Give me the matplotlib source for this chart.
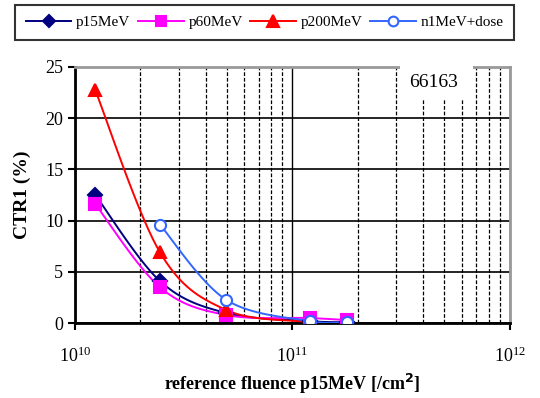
import numpy as np
import matplotlib.pyplot as plt
from matplotlib.patches import Rectangle
from matplotlib.ticker import LogLocator, NullFormatter

plt.rcParams['font.family'] = ['Liberation Serif', 'DejaVu Serif']

# reference fluence p15MeV [/cm^2]
fluence = [1.24e10, 2.46e10, 4.94e10, 1.2e11, 1.78e11]

p15 = [12.5, 4.1, 1.0, 0.2, 0.1]
p60 = [11.6, 3.5, 0.8, 0.5, 0.3]
p200 = [22.7, 6.9, 1.3, 0.1, -0.3]
n1 = [None, 9.6, 2.3, 0.2, 0.1]

series = [
    ("p15MeV", p15, "#000080", "D", "#000080", 7),
    ("p60MeV", p60, "#ff00ff", "s", "#ff00ff", 8),
    ("p200MeV", p200, "#ff0000", "^", "#ff0000", 9),
    ("n1MeV+dose", n1, "#3366ff", "o", "white", 8),
]


def smooth(xs, ys, n=20):
    # catmull-rom through the points, in log-x space (like excel's smoothed line)
    lx = np.log10(xs)
    pts = np.column_stack([lx, ys])
    pts = np.vstack([pts[0], pts, pts[-1]])
    out = []
    for i in range(1, len(pts) - 2):
        p0, p1, p2, p3 = pts[i - 1], pts[i], pts[i + 1], pts[i + 2]
        t = np.linspace(0, 1, n)[:, None]
        c = 0.5 * ((2 * p1) + (-p0 + p2) * t + (2 * p0 - 5 * p1 + 4 * p2 - p3) * t ** 2
                   + (-p0 + 3 * p1 - 3 * p2 + p3) * t ** 3)
        out.append(c)
    c = np.vstack(out)
    return 10 ** c[:, 0], c[:, 1]


fig = plt.figure(figsize=(5.4, 3.98), dpi=100)
ax = fig.add_axes([0.139, 0.188, 0.805, 0.644])

handles = []
for name, vals, col, mk, fc, ms in series:
    xs = [x for x, v in zip(fluence, vals) if v is not None]
    ys = [v for v in vals if v is not None]
    sx, sy = smooth(xs, ys)
    ax.plot(sx, sy, color=col, lw=1.4, zorder=3)
    ax.plot(xs, ys, ls='none', marker=mk, color=col, mfc=fc, mec=col,
            ms=ms, mew=1.5, zorder=4)
    h, = ax.plot([], [], color=col, lw=1.4, marker=mk, mfc=fc, mec=col, ms=ms - 1, mew=1.5)
    handles.append(h)

ax.set_xscale('log')
ax.set_xlim(1e10, 1e12)
ax.set_ylim(0, 25)
ax.set_yticks([0, 5, 10, 15, 20, 25])
ax.xaxis.set_major_locator(LogLocator(base=10, numticks=5))
ax.xaxis.set_minor_locator(LogLocator(base=10, subs=np.arange(2, 10), numticks=20))
ax.xaxis.set_minor_formatter(NullFormatter())

ax.grid(True, which='major', axis='y', color='black', lw=1.2)
ax.grid(True, which='major', axis='x', color='black', lw=1.0)
ax.grid(True, which='minor', axis='x', color='black', lw=0.9, ls=(0, (3, 1.5)))

ax.tick_params(axis='both', which='major', labelsize=13, direction='out', length=5,
               width=1.5, colors='black')
ax.tick_params(axis='x', which='minor', length=0)
ax.tick_params(axis='x', pad=12)

for s in ['left', 'bottom']:
    ax.spines[s].set_linewidth(2)
for s in ['top', 'right']:
    ax.spines[s].set_color('#999999')
    ax.spines[s].set_linewidth(2)

ax.set_ylabel('CTR1 (%)', fontsize=14, fontweight='bold', labelpad=10)
ax.set_xlabel('reference fluence p15MeV [/cm$^{\\mathbf{2}}$]', fontsize=13,
              fontweight='bold', labelpad=4)

# white label box sitting over the grid and the top frame
ax.add_patch(Rectangle((0.747, 0.871), 0.168, 0.14, transform=ax.transAxes,
                       facecolor='white', edgecolor='none', zorder=5, clip_on=False))
ax.text(0.825, 0.94, '66163', transform=ax.transAxes, ha='center', va='center',
        fontsize=14, zorder=6)

leg = fig.legend(handles, [s[0] for s in series], loc='center',
                 bbox_to_anchor=(0.49, 0.944), ncol=4, fontsize=11,
                 frameon=True, fancybox=False, edgecolor='black',
                 handlelength=3.0, handletextpad=0.3, columnspacing=0.5,
                 borderpad=0.7, borderaxespad=0)
leg.get_frame().set_linewidth(1.5)

fig.savefig('out.png', dpi=100)
